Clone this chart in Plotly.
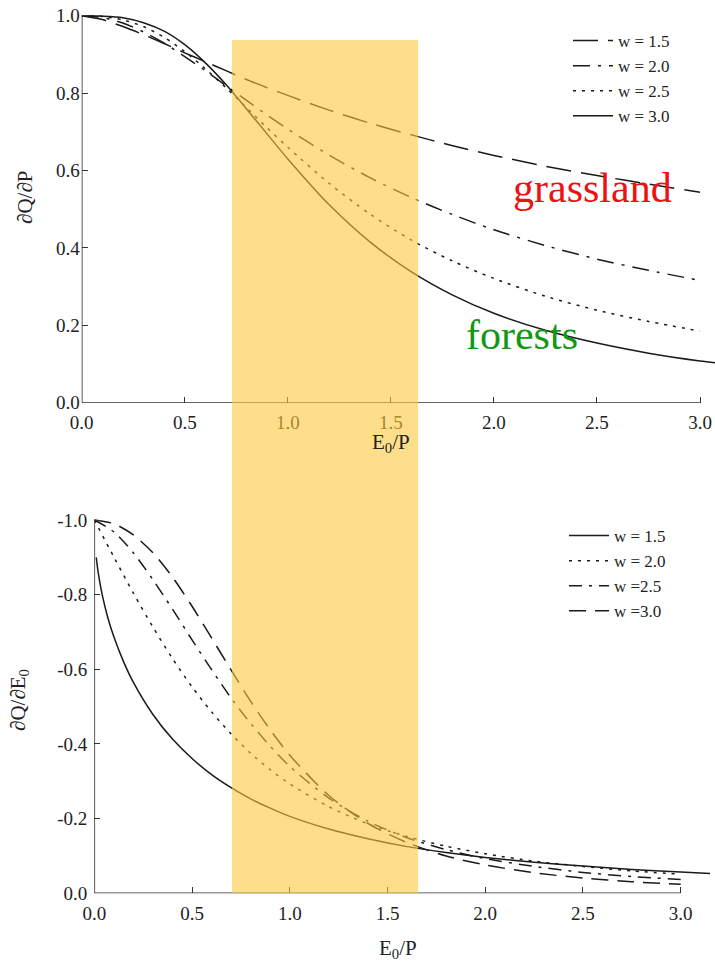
import plotly.graph_objects as go

# ---------------- data ----------------
x_top = [0.0, 0.1, 0.2, 0.3, 0.4, 0.5, 0.6, 0.7, 0.8, 0.9, 1.0, 1.2, 1.4, 1.6, 1.8, 2.0, 2.25, 2.5, 2.75, 3.0]
dqdp_w15 = [1.0, 0.990, 0.972, 0.951, 0.928, 0.904, 0.881, 0.858, 0.835, 0.814, 0.794, 0.756, 0.722, 0.692, 0.664, 0.639, 0.611, 0.587, 0.565, 0.544]
dqdp_w20 = [1.0, 0.995, 0.981, 0.958, 0.929, 0.894, 0.858, 0.819, 0.781, 0.743, 0.707, 0.640, 0.581, 0.530, 0.486, 0.447, 0.406, 0.371, 0.342, 0.316]
dqdp_w25 = [1.0, 0.998, 0.989, 0.972, 0.944, 0.907, 0.863, 0.814, 0.762, 0.710, 0.660, 0.567, 0.487, 0.420, 0.366, 0.321, 0.275, 0.239, 0.210, 0.185]
x_top30 = [0.0, 0.1, 0.2, 0.3, 0.4, 0.5, 0.6, 0.7, 0.8, 0.9, 1.0, 1.2, 1.4, 1.6, 1.8, 2.0, 2.25, 2.5, 2.75, 3.0, 3.1]
dqdp_w30 = [1.0, 0.999, 0.995, 0.982, 0.960, 0.925, 0.878, 0.822, 0.759, 0.694, 0.630, 0.512, 0.415, 0.338, 0.278, 0.231, 0.187, 0.154, 0.128, 0.108, 0.102]

x_bot15 = [0.01, 0.02, 0.04, 0.07, 0.1, 0.15, 0.2, 0.3, 0.4, 0.5, 0.6, 0.7, 0.8, 0.9, 1.0, 1.2, 1.4, 1.6, 1.8, 2.0, 2.25, 2.5, 2.75, 3.0, 3.15]
dqde_w15 = [-0.900, -0.859, -0.801, -0.737, -0.687, -0.620, -0.565, -0.479, -0.413, -0.361, -0.318, -0.283, -0.253, -0.228, -0.206, -0.172, -0.146, -0.125, -0.109, -0.096, -0.083, -0.073, -0.064, -0.057, -0.053]
x_bot = [0.0, 0.1, 0.2, 0.3, 0.4, 0.5, 0.6, 0.7, 0.8, 0.9, 1.0, 1.2, 1.4, 1.6, 1.8, 2.0, 2.25, 2.5, 2.75, 3.0]
dqde_w20 = [-1.0, -0.901, -0.804, -0.713, -0.629, -0.553, -0.486, -0.427, -0.375, -0.331, -0.293, -0.232, -0.186, -0.152, -0.126, -0.106, -0.086, -0.072, -0.060, -0.051]
dqde_w25 = [-1.0, -0.968, -0.912, -0.840, -0.761, -0.679, -0.599, -0.523, -0.455, -0.394, -0.340, -0.255, -0.193, -0.149, -0.117, -0.093, -0.072, -0.056, -0.045, -0.037]
dqde_w30 = [-1.0, -0.990, -0.960, -0.912, -0.847, -0.769, -0.684, -0.598, -0.514, -0.438, -0.370, -0.262, -0.187, -0.136, -0.100, -0.076, -0.055, -0.041, -0.031, -0.024]

top_names = ["w = 1.5", "w = 2.0", "w = 2.5", "w = 3.0"]
bot_names = ["w = 1.5", "w = 2.0", "w =2.5", "w =3.0"]

x_ticks = [0.0, 0.5, 1.0, 1.5, 2.0, 2.5, 3.0]
top_y_ticks = [0.0, 0.2, 0.4, 0.6, 0.8, 1.0]
bot_y_ticks = [0.0, -0.2, -0.4, -0.6, -0.8, -1.0]
bot_y_labels = ["0.0", "-0.2", "-0.4", "-0.6", "-0.8", "-1.0"]

band = [0.729, 1.632]   # highlighted E0/P interval (top axis units)

# ---------------- styling ----------------
W, H = 715, 962
FONT = "Liberation Serif"
LC = "#1a1a1a"
LW = 1.5
AX = "#333333"

fig = go.Figure()

top_series = [(x_top, dqdp_w15, "25px,10px"), (x_top, dqdp_w20, "17px,8px,3px,8px"),
              (x_top, dqdp_w25, "3px,6px"), (x_top30, dqdp_w30, "solid")]
for (xs, ys, dash), name in zip(top_series, top_names):
    fig.add_trace(go.Scatter(x=xs, y=ys, mode="lines", name=name,
                             line=dict(color=LC, width=LW, dash=dash, shape="spline", smoothing=0.8),
                             xaxis="x", yaxis="y", legend="legend"))

bot_series = [(x_bot15, dqde_w15, "solid"), (x_bot, dqde_w20, "3px,6px"),
              (x_bot, dqde_w25, "13px,7px,3px,7px"), (x_bot, dqde_w30, "17px,9px")]
for (xs, ys, dash), name in zip(bot_series, bot_names):
    fig.add_trace(go.Scatter(x=xs, y=ys, mode="lines", name=name,
                             line=dict(color=LC, width=LW, dash=dash, shape="spline", smoothing=0.8),
                             xaxis="x2", yaxis="y2", legend="legend2"))

tickfont = dict(family=FONT, size=19, color="#222")
common = dict(showgrid=False, zeroline=False, showline=False, ticks="inside", automargin=False,
              ticklen=6, tickwidth=1.3, tickcolor=AX, tickfont=tickfont)

# pixel geometry
top_x0_px, top_x3_px = 81.7, 700.0
top_y0_px, top_y1_px = 402.7, 15.7
bot_x0_px, bot_x3_px = 94.3, 680.7
bot_y0_px, bot_ym1_px = 893.3, 520.0

top_ppu_x = (top_x3_px - top_x0_px) / 3.0
top_ppu_y = top_y0_px - top_y1_px
bot_ppu_x = (bot_x3_px - bot_x0_px) / 3.0
bot_ppu_y = bot_y0_px - bot_ym1_px

top_ymax = 1.02
bot_ymax = 1.02

fig.update_layout(
    template="none",
    width=W, height=H, margin=dict(l=0, r=0, t=0, b=0, autoexpand=False),
    plot_bgcolor="white", paper_bgcolor="white",
    font=dict(family=FONT, color="#222"),
    xaxis=dict(domain=[top_x0_px / W, 1.0], range=[0, (W - top_x0_px) / top_ppu_x],
               tickvals=x_ticks, tickformat=".1f", anchor="y", ticklabelstandoff=6, **common),
    yaxis=dict(domain=[1 - top_y0_px / H, 1 - (top_y0_px - top_ymax * top_ppu_y) / H],
               range=[0, top_ymax], tickvals=top_y_ticks, tickformat=".1f", anchor="x",
               ticklabelstandoff=1, **common),
    xaxis2=dict(domain=[bot_x0_px / W, 1.0], range=[0, (W - bot_x0_px) / bot_ppu_x],
                tickvals=x_ticks, tickformat=".1f", anchor="y2", ticklabelstandoff=7, **common),
    yaxis2=dict(domain=[1 - bot_y0_px / H, 1 - (bot_y0_px - bot_ymax * bot_ppu_y) / H],
                range=[0, -bot_ymax], tickvals=bot_y_ticks, ticktext=bot_y_labels, anchor="x2",
                ticklabelstandoff=6, **common),
    legend=dict(x=568 / W, y=1 - 23 / H, xanchor="left", yanchor="top",
                bgcolor="rgba(0,0,0,0)", font=dict(family=FONT, size=17, color="#222"),
                itemwidth=40, tracegroupgap=0),
    legend2=dict(x=564 / W, y=1 - 518 / H, xanchor="left", yanchor="top",
                 bgcolor="rgba(0,0,0,0)", font=dict(family=FONT, size=17, color="#222"),
                 itemwidth=40, tracegroupgap=0),
    showlegend=True,
)

# axis lines (from 0 to 3.0 like the reference)
shapes = [
    dict(type="line", xref="x", yref="y", x0=0, x1=3.0, y0=0, y1=0, line=dict(color=AX, width=1.6)),
    dict(type="line", xref="x", yref="y", x0=0, x1=0, y0=0, y1=1.0, line=dict(color=AX, width=1.6)),
    dict(type="line", xref="x2", yref="y2", x0=0, x1=3.0, y0=0, y1=0, line=dict(color=AX, width=1.6)),
    dict(type="line", xref="x2", yref="y2", x0=0, x1=0, y0=0, y1=-1.0, line=dict(color=AX, width=1.6)),
    # highlighted band spanning both panels
    dict(type="rect", xref="x", yref="paper", x0=band[0], x1=band[1],
         y0=1 - bot_y0_px / H, y1=1 - 40 / H, layer="above",
         fillcolor="rgba(251,200,60,0.6)", line=dict(width=0)),
]
fig.update_layout(shapes=shapes)

ann_font = dict(family=FONT, size=21, color="#222")
fig.add_annotation(text="E<sub>0</sub>/P", xref="paper", yref="paper", x=391 / W, y=1 - 443 / H,
                   showarrow=False, font=ann_font, xanchor="center", yanchor="middle")
fig.add_annotation(text="E<sub>0</sub>/P", xref="paper", yref="paper", x=398 / W, y=1 - 949 / H,
                   showarrow=False, font=ann_font, xanchor="center", yanchor="middle")
fig.add_annotation(text="∂Q/∂P", xref="paper", yref="paper", x=25 / W, y=1 - 198 / H,
                   showarrow=False, font=ann_font, textangle=-90, xanchor="center", yanchor="middle")
fig.add_annotation(text="∂Q/∂E<sub>0</sub>", xref="paper", yref="paper", x=19 / W, y=1 - 700 / H,
                   showarrow=False, font=ann_font, textangle=-90, xanchor="center", yanchor="middle")
fig.add_annotation(text="grassland", xref="paper", yref="paper", x=592 / W, y=1 - 188 / H,
                   showarrow=False, font=dict(family=FONT, size=42, color="#ee1111"),
                   xanchor="center", yanchor="middle")
fig.add_annotation(text="forests", xref="paper", yref="paper", x=522 / W, y=1 - 335 / H,
                   showarrow=False, font=dict(family=FONT, size=42, color="#119911"),
                   xanchor="center", yanchor="middle")

fig.write_html("out.html", config={"displayModeBar": False},
               post_script="document.body.style.margin='0';document.body.style.overflow='hidden';")
